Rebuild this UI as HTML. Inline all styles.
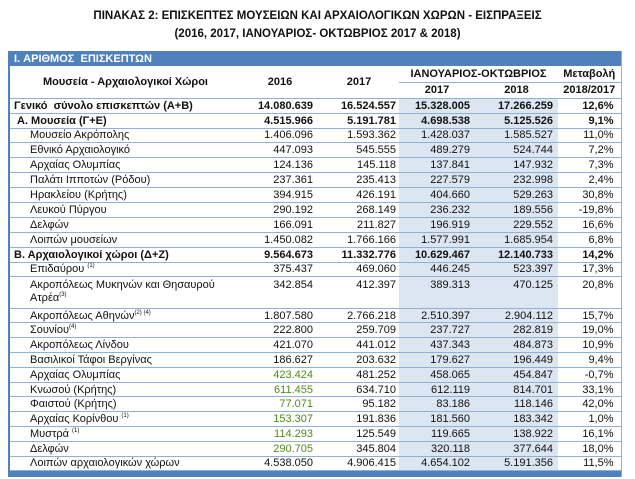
<!DOCTYPE html>
<html><head><meta charset="utf-8">
<style>
body{margin:0;width:635px;height:479px;background:#fff;overflow:hidden;font-family:"Liberation Sans","DejaVu Sans",sans-serif;color:#111;}
.t{position:absolute;left:0;width:635px;text-align:center;font-weight:bold;font-size:11.5px;}
table{position:absolute;left:8px;top:51px;border-collapse:collapse;table-layout:fixed;width:612px;font-size:11px;}
td{padding:0;white-space:nowrap;border-bottom:1px solid #8fb0d8;text-align:right;overflow:visible;line-height:12px;}
tr.bar td{background:#4f81bd;color:#fff;font-weight:bold;text-align:left;padding-left:4px;border-bottom:none;}
td.n{text-align:left;padding-left:20px;}
td.c1{padding-right:6px}td.c2{padding-right:3px}td.c3{padding-right:5px;background:#dce6f1}td.c4{padding-right:5px;background:#dce6f1}td.c5{padding-right:7px}
tr.b td{font-weight:bold}
tr.b td.n{padding-left:4px}
tr.a td.n{padding-left:7px}
td.h{text-align:center;font-weight:bold;font-size:11px;background:#fff !important;}
.g{color:#4f8a1a}
sup{font-size:6px;vertical-align:5px;line-height:0}
table{border-left:2px solid #4f81bd;border-right:1px solid #8fb0d8}
tr.bot td{background:#4f81bd;border:none}
tr.r td{height:13.8px}
</style></head><body>
<div class="t" style="top:10px">ΠΙΝΑΚΑΣ 2: ΕΠΙΣΚΕΠΤΕΣ ΜΟΥΣΕΙΩΝ ΚΑΙ ΑΡΧΑΙΟΛΟΓΙΚΩΝ ΧΩΡΩΝ - ΕΙΣΠΡΑΞΕΙΣ</div>
<div class="t" style="top:28px">(2016, 2017, ΙΑΝΟΥΑΡΙΟΣ- ΟΚΤΩΒΡΙΟΣ 2017 &amp; 2018)</div>
<table>
<colgroup><col style="width:232px"><col style="width:78px"><col style="width:80px"><col style="width:76px"><col style="width:83px"><col style="width:63px"></colgroup>
<tr class="bar" style="height:15px"><td colspan="6">I. ΑΡΙΘΜΟΣ &nbsp;ΕΠΙΣΚΕΠΤΩΝ</td></tr>
<tr style="height:16px"><td class="h" rowspan="2" style="border-bottom:1px solid #8fb0d8">Μουσεία - Αρχαιολογικοί Χώροι</td><td class="h" rowspan="2">2016</td><td class="h" rowspan="2">2017</td><td class="h" colspan="2">ΙΑΝΟΥΑΡΙΟΣ-ΟΚΤΩΒΡΙΟΣ</td><td class="h">Μεταβολή</td></tr>
<tr style="height:16px"><td class="h">2017</td><td class="h">2018</td><td class="h">2018/2017</td></tr>
<tr class="b" style="height:15px"><td class="n">Γενικό &nbsp;σύνολο επισκεπτών (Α+Β)</td><td class="c1">14.080.639</td><td class="c2">16.524.557</td><td class="c3">15.328.005</td><td class="c4">17.266.259</td><td class="c5">12,6%</td></tr>
<tr class="b a" style="height:15px"><td class="n">Α. Μουσεία (Γ+Ε)</td><td class="c1">4.515.966</td><td class="c2">5.191.781</td><td class="c3">4.698.538</td><td class="c4">5.125.526</td><td class="c5">9,1%</td></tr>
<tr style="height:14.9px"><td class="n">Μουσείο Ακρόπολης</td><td class="c1">1.406.096</td><td class="c2">1.593.362</td><td class="c3">1.428.037</td><td class="c4">1.585.527</td><td class="c5">11,0%</td></tr>
<tr style="height:14.9px"><td class="n">Εθνικό Αρχαιολογικό</td><td class="c1">447.093</td><td class="c2">545.555</td><td class="c3">489.279</td><td class="c4">524.744</td><td class="c5">7,2%</td></tr>
<tr style="height:14.9px"><td class="n">Αρχαίας Ολυμπίας</td><td class="c1">124.136</td><td class="c2">145.118</td><td class="c3">137.841</td><td class="c4">147.932</td><td class="c5">7,3%</td></tr>
<tr style="height:14.9px"><td class="n">Παλάτι Ιπποτών (Ρόδου)</td><td class="c1">237.361</td><td class="c2">235.413</td><td class="c3">227.579</td><td class="c4">232.998</td><td class="c5">2,4%</td></tr>
<tr style="height:14.9px"><td class="n">Ηρακλείου (Κρήτης)</td><td class="c1">394.915</td><td class="c2">426.191</td><td class="c3">404.660</td><td class="c4">529.263</td><td class="c5">30,8%</td></tr>
<tr style="height:14.9px"><td class="n">Λευκού Πύργου</td><td class="c1">290.192</td><td class="c2">268.149</td><td class="c3">236.232</td><td class="c4">189.556</td><td class="c5">-19,8%</td></tr>
<tr style="height:14.9px"><td class="n">Δελφών</td><td class="c1">166.091</td><td class="c2">211.827</td><td class="c3">196.919</td><td class="c4">229.552</td><td class="c5">16,6%</td></tr>
<tr style="height:14.9px"><td class="n">Λοιπών μουσείων</td><td class="c1">1.450.082</td><td class="c2">1.766.166</td><td class="c3">1.577.991</td><td class="c4">1.685.954</td><td class="c5">6,8%</td></tr>
<tr class="b" style="height:15px"><td class="n">Β. Αρχαιολογικοί χώροι (Δ+Ζ)</td><td class="c1">9.564.673</td><td class="c2">11.332.776</td><td class="c3">10.629.467</td><td class="c4">12.140.733</td><td class="c5">14,2%</td></tr>
<tr style="height:14px"><td class="n">Επιδαύρου <sup>(1)</sup></td><td class="c1">375.437</td><td class="c2">469.060</td><td class="c3">446.245</td><td class="c4">523.397</td><td class="c5">17,3%</td></tr>
<tr style="height:32px"><td class="n" style="line-height:13px;vertical-align:top;padding-top:2px">Ακροπόλεως Μυκηνών και Θησαυρού<br>Ατρέα<sup>(3)</sup></td><td class="c1" style="vertical-align:top;padding-top:2px">342.854</td><td class="c2" style="vertical-align:top;padding-top:2px">412.397</td><td class="c3" style="vertical-align:top;padding-top:2px">389.313</td><td class="c4" style="vertical-align:top;padding-top:2px">470.125</td><td class="c5" style="vertical-align:top;padding-top:2px">20,8%</td></tr>
<tr class="r"><td class="n">Ακροπόλεως Αθηνών<sup>(2) (4)</sup></td><td class="c1">1.807.580</td><td class="c2">2.766.218</td><td class="c3">2.510.397</td><td class="c4">2.904.112</td><td class="c5">15,7%</td></tr>
<tr class="r"><td class="n">Σουνίου<sup>(4)</sup></td><td class="c1">222.800</td><td class="c2">259.709</td><td class="c3">237.727</td><td class="c4">282.819</td><td class="c5">19,0%</td></tr>
<tr class="r"><td class="n">Ακροπόλεως Λίνδου</td><td class="c1">421.070</td><td class="c2">441.012</td><td class="c3">437.343</td><td class="c4">484.873</td><td class="c5">10,9%</td></tr>
<tr class="r"><td class="n">Βασιλικοί Τάφοι Βεργίνας</td><td class="c1">186.627</td><td class="c2">203.632</td><td class="c3">179.627</td><td class="c4">196.449</td><td class="c5">9,4%</td></tr>
<tr class="r"><td class="n">Αρχαίας Ολυμπίας</td><td class="c1 g">423.424</td><td class="c2">481.252</td><td class="c3">458.065</td><td class="c4">454.847</td><td class="c5">-0,7%</td></tr>
<tr class="r"><td class="n">Κνωσού (Κρήτης)</td><td class="c1 g">611.455</td><td class="c2">634.710</td><td class="c3">612.119</td><td class="c4">814.701</td><td class="c5">33,1%</td></tr>
<tr class="r"><td class="n">Φαιστού (Κρήτης)</td><td class="c1 g">77.071</td><td class="c2">95.182</td><td class="c3">83.186</td><td class="c4">118.146</td><td class="c5">42,0%</td></tr>
<tr class="r"><td class="n">Αρχαίας Κορίνθου <sup>(1)</sup></td><td class="c1 g">153.307</td><td class="c2">191.836</td><td class="c3">181.560</td><td class="c4">183.342</td><td class="c5">1,0%</td></tr>
<tr class="r"><td class="n">Μυστρά <sup>(1)</sup></td><td class="c1 g">114.293</td><td class="c2">125.549</td><td class="c3">119.665</td><td class="c4">138.922</td><td class="c5">16,1%</td></tr>
<tr class="r"><td class="n">Δελφών</td><td class="c1 g">290.705</td><td class="c2">345.804</td><td class="c3">320.118</td><td class="c4">377.644</td><td class="c5">18,0%</td></tr>
<tr class="r"><td class="n">Λοιπών αρχαιολογικών χώρων</td><td class="c1">4.538.050</td><td class="c2">4.906.415</td><td class="c3">4.654.102</td><td class="c4">5.191.356</td><td class="c5">11,5%</td></tr>
<tr class="bot" style="height:6px"><td colspan="6"></td></tr>
</table>
</body></html>
